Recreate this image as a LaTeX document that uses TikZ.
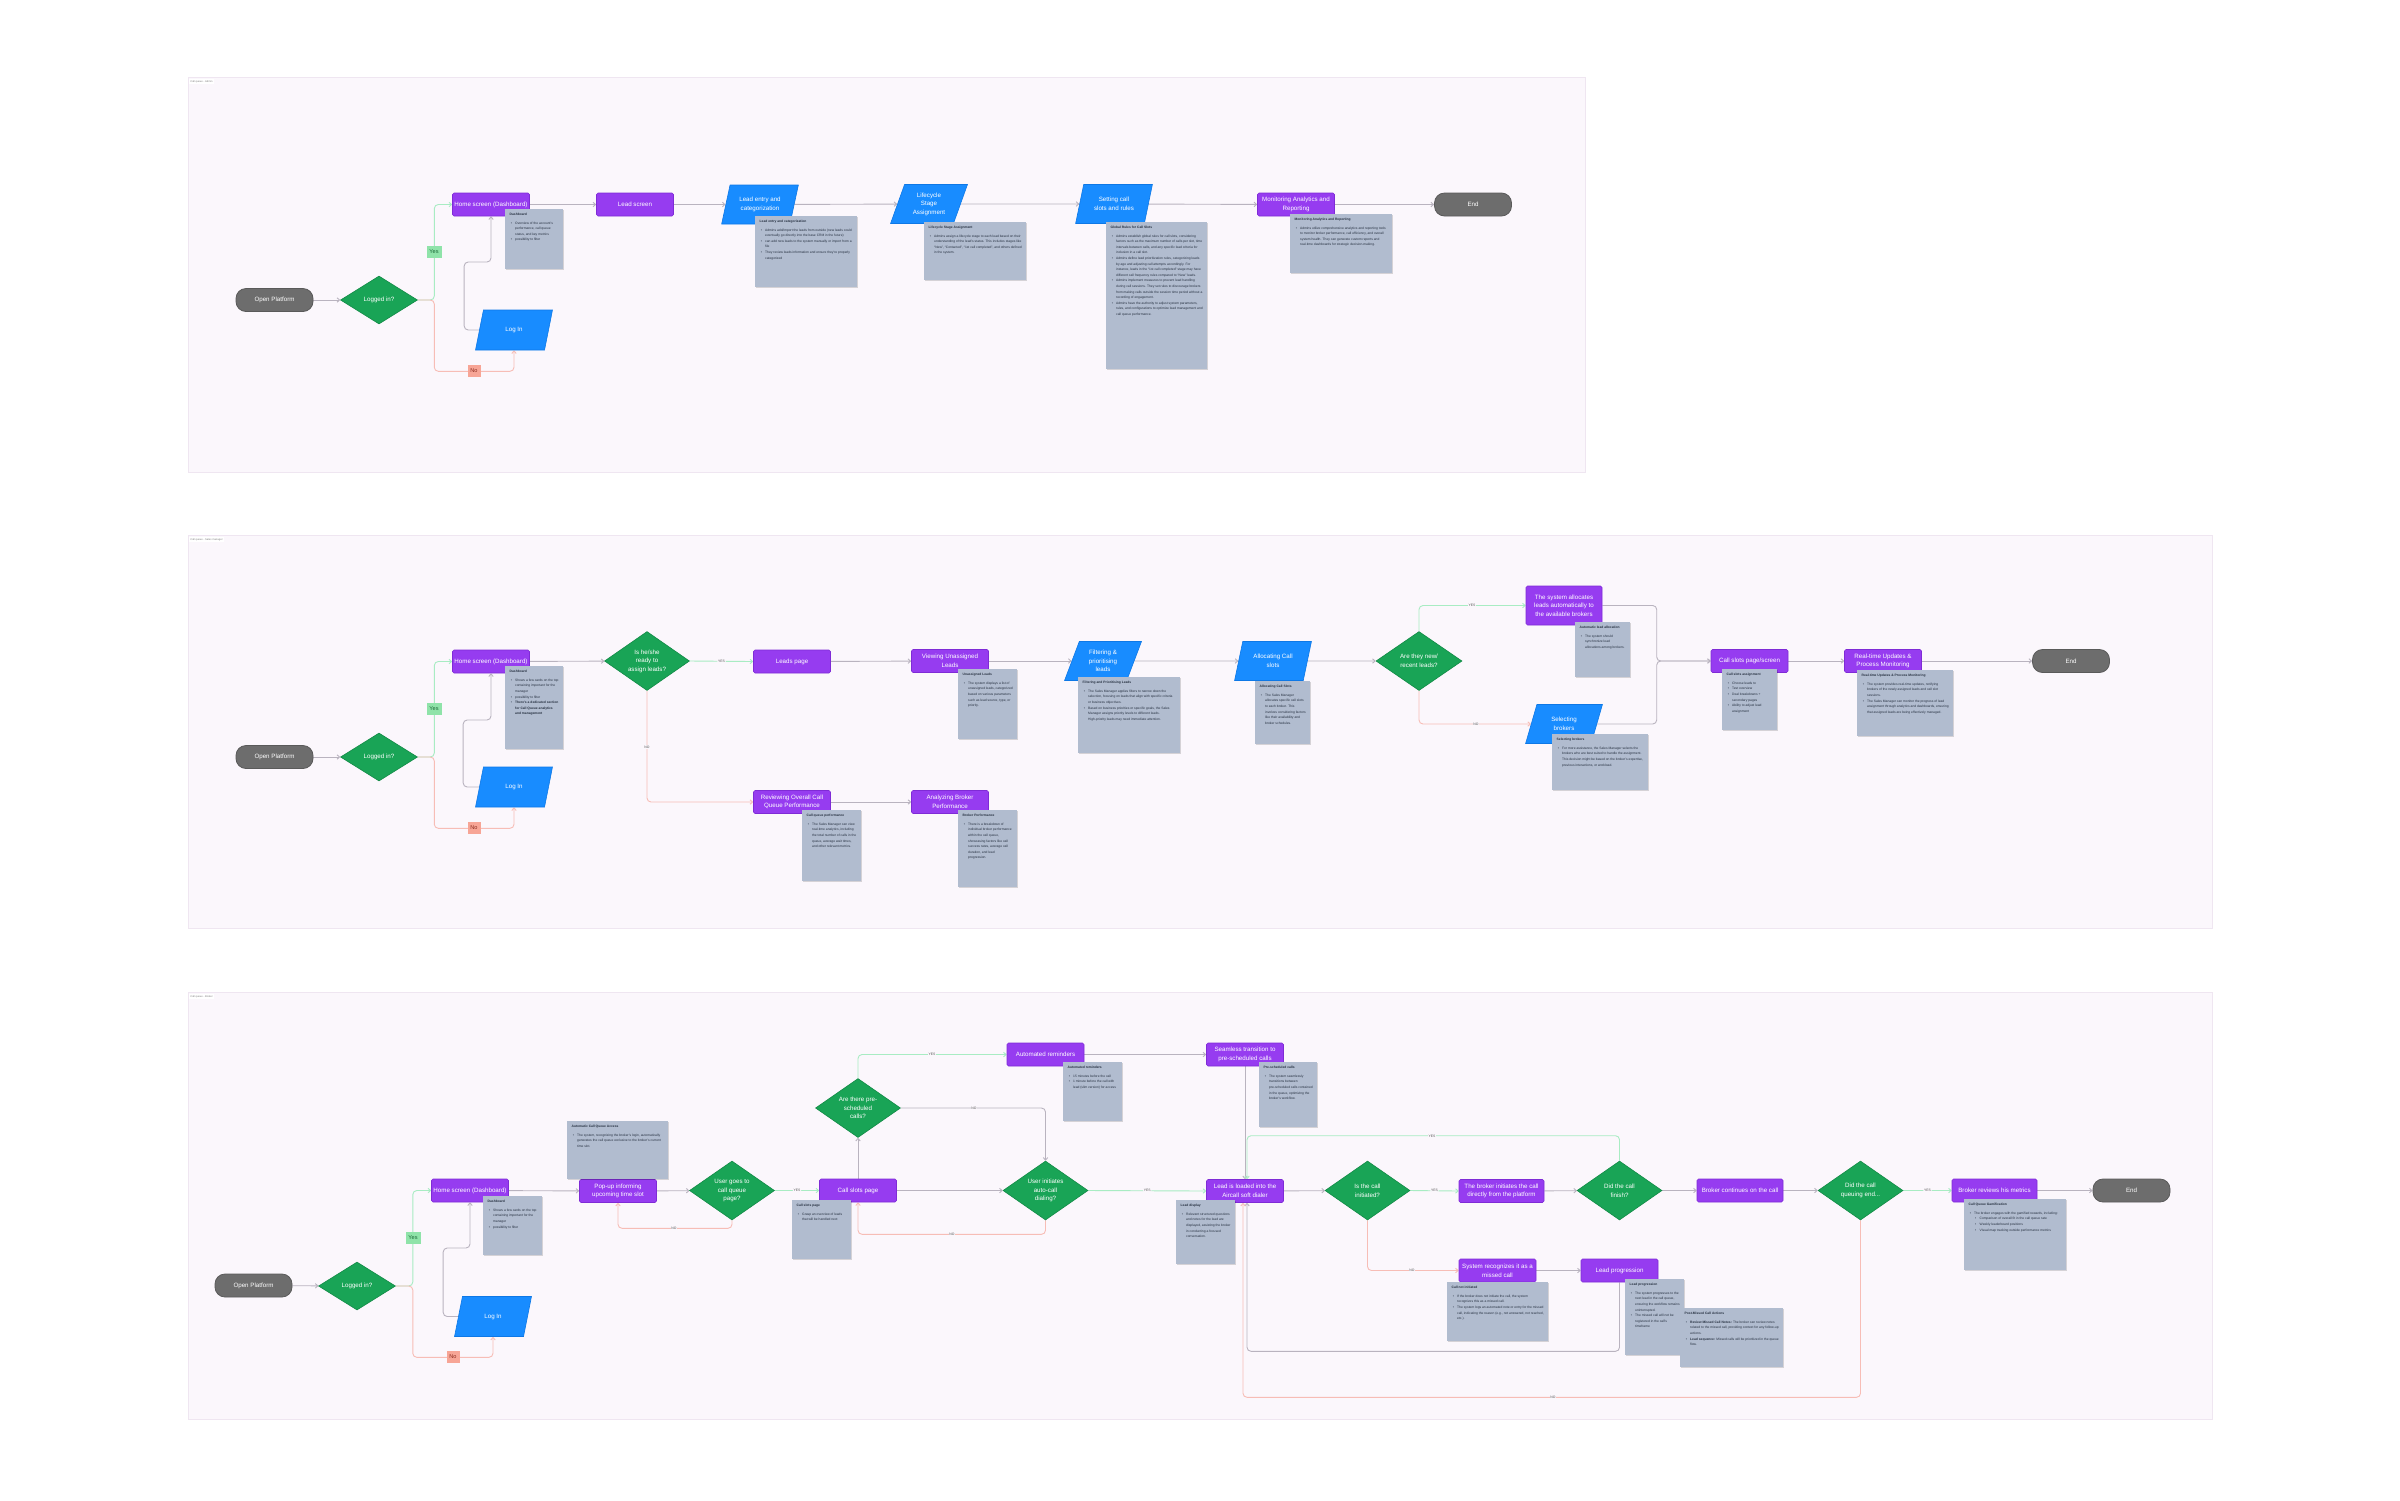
\documentclass[tikz,border=0pt]{standalone}
\usepackage{fontspec}
\setmainfont{Liberation Sans}
\usetikzlibrary{shapes.geometric,arrows.meta,calc,shadows}
\definecolor{framebg}{HTML}{FBF7FC}
\definecolor{frameedge}{HTML}{EFE6F1}
\definecolor{pillgray}{HTML}{6D6D6D}
\definecolor{pilledge}{HTML}{5A5A5A}
\definecolor{purp}{HTML}{963CF0}
\definecolor{purpedge}{HTML}{7F2BD6}
\definecolor{grn}{HTML}{19A456}
\definecolor{grnedge}{HTML}{128A46}
\definecolor{blu}{HTML}{188CFF}
\definecolor{bluedge}{HTML}{0E78E6}
\definecolor{notebg}{HTML}{B1BCCF}
\definecolor{notetext}{HTML}{263040}
\definecolor{lgray}{HTML}{B9B3BF}
\definecolor{lgreen}{HTML}{A8ECC3}
\definecolor{lred}{HTML}{F7BDB6}
\definecolor{yesbg}{HTML}{8FE3A9}
\definecolor{yestext}{HTML}{1E6B3B}
\definecolor{nobg}{HTML}{F7A596}
\definecolor{notext}{HTML}{8B2B1E}
\definecolor{lbltext}{HTML}{555555}
\newcommand\bi[1]{\par\hangindent=5.5pt\hangafter=1\noindent\hbox to 5.5pt{\hskip1.2pt\textbullet\hfil}#1}
\newcommand\bii[1]{\par\hangindent=11pt\hangafter=1\noindent\hbox to 11pt{\hskip6.5pt\textbullet\hfil}#1}
\newcommand\notebox[4]{\parbox[c][\dimexpr#2pt-8pt\relax][t]{\dimexpr#1pt-9pt\relax}{\raggedright\fontsize{3.3}{5.6}\selectfont\textbf{#3}\par\vspace{3pt}#4}}
\pgfdeclarelayer{bg}
\pgfdeclarelayer{lines}
\pgfdeclarelayer{fg}
\pgfsetlayers{bg,lines,main,fg}
\tikzset{
 base/.style={font=\fontsize{6.2}{8.6}\selectfont, text=white, align=center, inner sep=0pt},
 pill/.style={base, fill=pillgray, draw=pilledge, line width=0.8pt, rounded corners=10pt, minimum width=77pt, minimum height=23pt},
 proc/.style={base, fill=purp, draw=purpedge, line width=0.6pt, rounded corners=1.5pt, minimum width=77pt, minimum height=23pt},
 dec/.style={base, diamond, aspect=1.44, fill=grn, draw=grnedge, line width=0.6pt, minimum width=85pt, minimum height=59pt},
 io/.style={base, trapezium, trapezium left angle=68, trapezium right angle=112, trapezium stretches=true, fill=blu, draw=bluedge, line width=0.6pt, minimum width=77pt, minimum height=39pt},
 note/.style={anchor=north west, fill=notebg, inner xsep=4.5pt, inner ysep=4pt, text=notetext, drop shadow={shadow xshift=0.6pt,shadow yshift=-0.8pt,opacity=0.15,fill=black}},
 gl/.style={draw=lgray, line width=0.9pt, rounded corners=4pt, -{Straight Barb[length=2.5pt,width=4.5pt]}},
 yl/.style={gl, draw=lgreen},
 rl/.style={gl, draw=lred},
 lbl/.style={fill=framebg, inner sep=0.8pt, font=\fontsize{3.4}{4}\selectfont, text=lbltext},
 yesbox/.style={fill=yesbg, text=yestext, font=\fontsize{5.6}{6}\selectfont, minimum width=15pt, minimum height=12pt, inner sep=0pt},
 nobox/.style={fill=nobg, text=notext, font=\fontsize{5.6}{6}\selectfont, minimum width=13pt, minimum height=12pt, inner sep=0pt},
 frame/.style={fill=framebg, draw=frameedge, line width=0.5pt},
 flabel/.style={anchor=north west, fill=white, font=\fontsize{2.6}{3}\selectfont, text=gray, inner sep=1.2pt}
}
\begin{document}
\begin{tikzpicture}[x=1pt,y=-1pt]
\useasboundingbox (0,0) rectangle (2400,1500);
\begin{pgfonlayer}{bg}
\fill[white] (0,0) rectangle (2400,1500);
\draw[frame] (188,77) rectangle (1585,472);
\draw[frame] (188,535) rectangle (2212,928);
\draw[frame] (188,992) rectangle (2212,1419);
\end{pgfonlayer}
\node[flabel] (t1) at (189,79) {Call queue - Admin};
\node[flabel] (t2) at (189,537) {Call queue - Sales manager};
\node[flabel] (t3) at (189,994) {Call queue - Broker};

% ================= Section 1 =================
\node[pill] (op1) at (274.5,300) {Open Platform};
\node[dec, minimum width=77pt, minimum height=48pt, aspect=1.6] (li1) at (379,300) {Logged in?};
\node[proc] (home1) at (491,204.5) {Home screen (Dashboard)};
\node[io, minimum height=40pt] (login1) at (514,330) {Log In};
\node[proc] (lead1) at (635,204.5) {Lead screen};
\node[io] (entry1) at (760,204.5) {Lead entry and\\categorization};
\node[io] (life1) at (929,204) {Lifecycle\\Stage\\Assignment};
\node[io] (set1) at (1114,204) {Setting call\\slots and rules};
\node[proc] (mon1) at (1296,204.5) {Monitoring Analytics and\\Reporting};
\node[pill] (end1) at (1473,204.5) {End};
\node[yesbox] (y1) at (434,252) {Yes};
\node[nobox] (no1) at (474,371) {No};
\begin{pgfonlayer}{lines}
\draw[gl] (op1) -- (li1);
\draw[yl] (li1.east) -- ++(16.5,0) |- (home1.west);
\draw[rl] (li1.east) -- ++(16.5,0) |- ([yshift=-21pt]login1.south) -- (login1.south);
\draw[gl] (login1.west) -- ++(-15,0) -- ++(0,-68) -| (home1.south);
\draw[gl] (home1) -- (lead1);
\draw[gl] (lead1) -- (entry1);
\draw[gl] (entry1) -- (life1);
\draw[gl] (life1) -- (set1);
\draw[gl] (set1) -- (mon1);
\draw[gl] (mon1) -- (end1);
\end{pgfonlayer}
\begin{pgfonlayer}{fg}
\node[note] (n1a) at (505,209) {\notebox{58}{60}{Dashboard}{\bi{Overview of the account's performance, call queue status, and key metrics}\bi{possibility to filter}}};
\node[note] (n1b) at (755,216) {\notebox{102}{71}{Lead entry and categorization}{\bi{Admins add/import the leads from outside (new leads could eventually go directly into the base CRM in the future)}\bi{can add new leads to the system manually or import from a file}\bi{They review leads information and ensure they're properly categorized}}};
\node[note] (n1c) at (924,222) {\notebox{102}{58}{Lifecycle Stage Assignment}{\bi{Admins assign a lifecycle stage to each lead based on their understanding of the lead's status. This includes stages like “New”, “Contacted”, “1st call completed”, and others defined in the system.}}};
\node[note] (n1d) at (1106,222) {\notebox{101}{147}{Global Rules for Call Slots}{\bi{Admins establish global rules for call slots, considering factors such as the maximum number of calls per slot, time intervals between calls, and any specific lead criteria for inclusion in a call slot.}\bi{Admins define lead prioritization rules, categorizing leads by age and adjusting call attempts accordingly. For instance, leads in the “1st call completed” stage may have different call frequency rules compared to “New” leads.}\bi{Admins implement measures to prevent lead handling during call sessions. They set rules to discourage brokers from making calls outside the session time period without a recording of engagement.}\bi{Admins have the authority to adjust system parameters, rules, and configurations to optimize lead management and call queue performance.}}};
\node[note] (n1e) at (1290,214) {\notebox{102}{59}{Monitoring Analytics and Reporting}{\bi{Admins utilize comprehensive analytics and reporting tools to monitor broker performance, call efficiency, and overall system health. They can generate custom reports and real-time dashboards for strategic decision-making.}}};
\end{pgfonlayer}

% ================= Section 2 =================
\node[pill] (op2) at (274.5,757) {Open Platform};
\node[dec, minimum width=77pt, minimum height=48pt, aspect=1.6] (li2) at (379,757) {Logged in?};
\node[proc] (home2) at (491,661.5) {Home screen (Dashboard)};
\node[io, minimum height=40pt] (login2) at (514,787) {Log In};
\node[dec] (ready2) at (647,661) {Is he/she\\ready to\\assign leads?};
\node[proc] (leads2) at (792,661.5) {Leads page};
\node[proc] (view2) at (950,661) {Viewing Unassigned\\Leads};
\node[io] (filt2) at (1103,661) {Filtering \&\\prioritising\\leads};
\node[io] (alloc2) at (1273,661) {Allocating Call\\slots};
\node[dec, minimum width=86pt] (new2) at (1419,661) {Are they new/\\recent leads?};
\node[proc, minimum width=76pt, minimum height=39pt] (auto2) at (1564,605.5) {The system allocates\\leads automatically to\\the available brokers};
\node[io] (sel2) at (1564,724) {Selecting\\brokers};
\node[proc] (cs2) at (1749.5,661) {Call slots page/screen};
\node[proc] (rt2) at (1883,661) {Real-time Updates \&\\Process Monitoring};
\node[pill] (end2) at (2071,661) {End};
\node[proc] (rev2) at (792,802) {Reviewing Overall Call\\Queue Performance};
\node[proc] (anb2) at (950,802) {Analyzing Broker\\Performance};
\node[yesbox] (y2) at (434,709) {Yes};
\node[nobox] (no2) at (474,828) {No};
\begin{pgfonlayer}{lines}
\draw[gl] (op2) -- (li2);
\draw[yl] (li2.east) -- ++(16.5,0) |- (home2.west);
\draw[rl] (li2.east) -- ++(16.5,0) |- ([yshift=-21pt]login2.south) -- (login2.south);
\draw[gl] (login2.west) -- ++(-16,0) -- ++(0,-67) -| (home2.south);
\draw[gl] (home2) -- (ready2);
\draw[yl] (ready2.east) -- node[lbl] (l2a) {YES} (leads2.west);
\draw[rl] (ready2.south) |- (rev2.west);
\node[lbl] (l2b) at (647,747) {NO};
\draw[gl] (leads2) -- (view2);
\draw[gl] (view2) -- (filt2);
\draw[gl] (filt2) -- (alloc2);
\draw[gl] (alloc2) -- (new2);
\draw[gl] (rev2) -- (anb2);
\draw[yl] (new2.north) |- (auto2.west);
\node[lbl] (l2c) at (1472,605.5) {YES};
\draw[rl] (new2.south) |- (sel2.west);
\node[lbl] (l2d) at (1476,724) {NO};
\draw[gl] (auto2.east) -| ($(cs2.west)+(-54,0)$) -- (cs2.west);
\draw[gl] (sel2.east) -| ($(cs2.west)+(-54,0)$) -- (cs2.west);
\draw[gl] (cs2) -- (rt2);
\draw[gl] (rt2) -- (end2);
\end{pgfonlayer}
\begin{pgfonlayer}{fg}
\node[note] (n2a) at (505,666) {\notebox{58}{83}{Dashboard}{\bi{Shows a few cards on the top containing important for the manager}\bi{possibility to filter}\bi{\textbf{There's a dedicated section for Call Queue analytics and management}}}};
\node[note] (n2b) at (802,810) {\notebox{59}{71}{Call queue performance}{\bi{The Sales Manager can view real-time analytics, including the total number of calls in the queue, average wait times, and other relevant metrics.}}};
\node[note] (n2c) at (958,669) {\notebox{59}{70}{Unassigned Leads}{\bi{The system displays a list of unassigned leads, categorized based on various parameters such as lead source, type, or priority.}}};
\node[note] (n2d) at (1078,677) {\notebox{102}{76}{Filtering and Prioritising Leads}{\bi{The Sales Manager applies filters to narrow down the selection, focusing on leads that align with specific criteria or business objectives.}\bi{Based on business priorities or specific goals, the Sales Manager assigns priority levels to different leads. High-priority leads may need immediate attention.}}};
\node[note] (n2e) at (1255,681) {\notebox{55}{63}{Allocating Call Slots}{\bi{The Sales Manager allocates specific call slots to each broker. This involves considering factors like their availability and broker schedules.}}};
\node[note] (n2f) at (958,810) {\notebox{59}{77}{Broker Performance}{\bi{There is a breakdown of individual broker performance within the call queue, showcasing factors like call success rates, average call duration, and lead progression.}}};
\node[note] (n2g) at (1575,622) {\notebox{55}{55}{Automatic lead allocation}{\bi{The system should synchronize lead allocations among brokers.}}};
\node[note] (n2h) at (1552,734) {\notebox{96}{56}{Selecting brokers}{\bi{For more assistance, the Sales Manager selects the brokers who are best suited to handle the assignment. This decision might be based on the broker's expertise, previous interactions, or workload.}}};
\node[note] (n2i) at (1722,669) {\notebox{55}{61}{Call slots assignment}{\bi{Choose leads to}\bi{Test overview}\bi{Deal breakdowns + secondary pages}\bi{Ability to adjust lead assignment}}};
\node[note] (n2j) at (1857,670) {\notebox{96}{66}{Real-time Updates \& Process Monitoring}{\bi{The system provides real-time updates, notifying brokers of the newly assigned leads and call slot sessions.}\bi{The Sales Manager can monitor the progress of lead assignment through analytics and dashboards, ensuring that assigned leads are being effectively managed.}}};
\end{pgfonlayer}

% ================= Section 3 =================
\node[pill] (op3) at (253.5,1285.5) {Open Platform};
\node[dec, minimum width=77pt, minimum height=48pt, aspect=1.6] (li3) at (357,1286) {Logged in?};
\node[proc] (home3) at (470,1190.5) {Home screen (Dashboard)};
\node[io, minimum height=40pt] (login3) at (493,1316.5) {Log In};
\node[proc] (pop3) at (618,1191) {Pop-up informing\\upcoming time slot};
\node[dec] (goes3) at (732,1190.5) {User goes to\\call queue\\page?};
\node[proc] (slots3) at (858,1190.5) {Call slots page};
\node[dec] (pre3) at (858,1108) {Are there pre-\\scheduled\\calls?};
\node[proc] (rem3) at (1045.5,1054.5) {Automated reminders};
\node[dec] (init3) at (1045.5,1190.5) {User initiates\\auto-call\\dialing?};
\node[proc] (seam3) at (1245,1054.5) {Seamless transition to\\pre-scheduled calls};
\node[proc] (loaded3) at (1245,1191) {Lead is loaded into the\\Aircall soft dialer};
\node[dec] (call3) at (1367.5,1190.5) {Is the call\\initiated?};
\node[proc, minimum width=85pt] (bro3) at (1501.5,1191) {The broker initiates the call\\directly from the platform};
\node[dec] (fin3) at (1619.5,1190.5) {Did the call\\finish?};
\node[proc, minimum width=86pt] (cont3) at (1740,1190.5) {Broker continues on the call};
\node[dec] (qend3) at (1860.5,1190.5) {Did the call\\queuing end...};
\node[proc, minimum width=85pt] (revm3) at (1994.5,1190.5) {Broker reviews his metrics};
\node[pill] (end3) at (2131.5,1190.5) {End};
\node[proc] (miss3) at (1497.5,1270.5) {System recognizes it as a\\missed call};
\node[proc] (prog3) at (1619.5,1270.5) {Lead progression};
\node[yesbox] (y3) at (413,1238) {Yes};
\node[nobox] (no3) at (453,1357) {No};
\begin{pgfonlayer}{lines}
\draw[gl] (op3) -- (li3);
\draw[yl] (li3.east) -- ++(17,0) |- (home3.west);
\draw[rl] (li3.east) -- ++(17,0) |- ([yshift=-20.5pt]login3.south) -- (login3.south);
\draw[gl] (login3.west) -- ++(-15,0) -- ++(0,-68.5) -| (home3.south);
\draw[gl] (home3) -- (pop3);
\draw[gl] (pop3) -- (goes3);
\draw[yl] (goes3.east) -- node[lbl] (l3a) {YES} (slots3.west);
\draw[rl] (goes3.south) -- ++(0,8) -| (pop3.south);
\node[lbl] (l3b) at (674,1228) {NO};
\draw[gl] (slots3.north) -- (pre3.south);
\draw[yl] (pre3.north) |- (rem3.west);
\node[lbl] (l3c) at (932,1054.5) {YES};
\draw[gl] (pre3.east) -| (init3.north);
\node[lbl] (l3d) at (974,1108) {NO};
\draw[gl] (slots3.east) -- (init3.west);
\draw[rl] (init3.south) -- ++(0,14) -| (slots3.south);
\node[lbl] (l3e) at (952,1234) {NO};
\draw[yl] (init3.east) -- node[lbl] (l3f) {YES} (loaded3.west);
\draw[gl] (rem3) -- (seam3);
\draw[gl] (seam3.south) -- (loaded3.north);
\draw[gl] (loaded3) -- (call3);
\draw[yl] (call3.east) -- node[lbl] (l3g) {YES} (bro3.west);
\draw[rl] (call3.south) |- (miss3.west);
\node[lbl] (l3h) at (1412,1270.5) {NO};
\draw[gl] (bro3) -- (fin3);
\draw[gl] (fin3) -- (cont3);
\draw[yl] (fin3.north) -- ++(0,-25) -| ([xshift=2pt]loaded3.north);
\node[lbl] (l3i) at (1432,1136) {YES};
\draw[gl] (miss3) -- (prog3);
\draw[gl] (prog3.south) -- ++(0,69) -| ([xshift=2pt]loaded3.south);
\draw[gl] (cont3) -- (qend3);
\draw[yl] (qend3.east) -- node[lbl] (l3j) {YES} (revm3.west);
\draw[rl] (qend3.south) -- ++(0,177) -| ([xshift=-2pt]loaded3.south);
\node[lbl] (l3k) at (1553,1397) {NO};
\draw[gl] (revm3) -- (end3);
\end{pgfonlayer}
\begin{pgfonlayer}{fg}
\node[note] (n3a) at (483,1196) {\notebox{59}{59}{Dashboard}{\bi{Shows a few cards on the top containing important for the manager}\bi{possibility to filter}}};
\node[note] (n3b) at (567,1121) {\notebox{101}{58}{Automatic Call Queue Access}{\bi{The system, recognizing the broker's login, automatically generates the call queue exclusive to the broker's current time slot.}}};
\node[note] (n3c) at (792,1200) {\notebox{59}{59}{Call slots page}{\bi{Grasp an overview of leads that will be handled next}}};
\node[note] (n3d) at (1063,1062) {\notebox{59}{59}{Automated reminders}{\bi{15 minutes before the call}\bi{1 minute before the call with lead (slim version) for access}}};
\node[note] (n3e) at (1259,1062) {\notebox{58}{65}{Pre-scheduled calls}{\bi{The system seamlessly transitions between pre-scheduled calls contained in the queue, optimizing the broker's workflow.}}};
\node[note] (n3f) at (1176,1200) {\notebox{59}{64}{Lead display}{\bi{Relevant structured questions and notes for the lead are displayed, assisting the broker in conducting a focused conversation.}}};
\node[note] (n3g) at (1447,1282) {\notebox{101}{59}{Call not initiated}{\bi{If the broker does not initiate the call, the system recognizes this as a missed call.}\bi{The system logs an automated note or entry for the missed call, indicating the reason (e.g., not answered, not reached, etc.).}}};
\node[note] (n3h) at (1625,1279) {\notebox{59}{76}{Lead progression}{\bi{The system progresses to the next lead in the call queue, ensuring the workflow remains uninterrupted.}\bi{The missed call will not be registered in the call's timeframe}}};
\node[note] (n3i) at (1680,1308) {\notebox{103}{59}{Post-Missed Call Actions}{\bi{\textbf{Review Missed Call Notes:} The broker can review notes related to the missed call, providing context for any follow-up actions.}\bi{\textbf{Lead sequence:} Missed calls will be prioritized in the queue flow.}}};
\node[note] (n3j) at (1964,1199) {\notebox{102}{71}{Call Queue Gamification}{\bi{The broker engages with the gamified rewards, including:}\bii{Comparison of overall fit in the call queue rate}\bii{Weekly leaderboard positions}\bii{Visual map tracking outside performance metrics}}};
\end{pgfonlayer}
\end{tikzpicture}
\end{document}
